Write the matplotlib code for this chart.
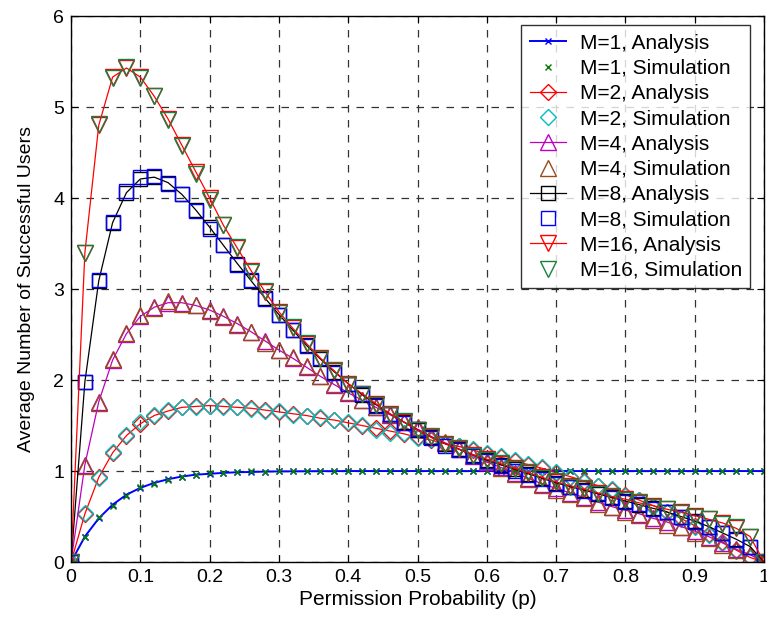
import numpy as np
import matplotlib.pyplot as plt

plt.rcParams['font.family'] = ['Liberation Sans', 'DejaVu Sans']

# permission probability p = 0, 0.02, ..., 1
p = np.linspace(0, 1, 51)

# ---- values ----
m1_ana = [0, 0.28, 0.48, 0.63, 0.74, 0.815, 0.87, 0.91, 0.94, 0.96,
          0.97, 0.98, 0.987, 0.99, 0.994, 0.996, 0.997, 0.998, 0.999, 0.999] + [1.0] * 31
m1_sim = [0, 0.27, 0.49, 0.62, 0.73, 0.82, 0.86, 0.90, 0.94, 0.96,
          0.98, 0.98, 0.99, 1.0, 0.99, 1.0, 1.0, 1.0, 1.0, 1.0] + [1.0] * 31

m2_ana = [0, 0.53, 0.93, 1.20, 1.39, 1.52, 1.61, 1.66, 1.70, 1.71,
          1.72, 1.71, 1.70, 1.69, 1.67, 1.65, 1.63, 1.61, 1.58, 1.56,
          1.53, 1.50, 1.47, 1.44, 1.41, 1.37, 1.34, 1.30, 1.27, 1.23,
          1.19, 1.15, 1.11, 1.07, 1.03, 0.98, 0.94, 0.89, 0.84, 0.79,
          0.74, 0.68, 0.62, 0.55, 0.48, 0.40, 0.31, 0.22, 0.13, 0.05, 0]
m2_sim = [0, 0.54, 0.92, 1.21, 1.40, 1.54, 1.62, 1.67, 1.70, 1.70,
          1.72, 1.70, 1.70, 1.68, 1.66, 1.66, 1.62, 1.60, 1.59, 1.56,
          1.54, 1.51, 1.45, 1.42, 1.42, 1.36, 1.35, 1.31, 1.27, 1.24,
          1.20, 1.17, 1.12, 1.08, 1.04, 0.99, 0.94, 0.88, 0.84, 0.80,
          0.73, 0.68, 0.61, 0.55, 0.47, 0.39, 0.30, 0.21, 0.12, 0.04, 0]

m4_ana = [0, 1.07, 1.76, 2.22, 2.51, 2.70, 2.80, 2.85, 2.85, 2.82,
          2.77, 2.70, 2.62, 2.53, 2.43, 2.33, 2.24, 2.14, 2.04, 1.95,
          1.86, 1.78, 1.70, 1.62, 1.54, 1.46, 1.38, 1.31, 1.24, 1.17,
          1.10, 1.04, 0.98, 0.92, 0.86, 0.81, 0.76, 0.71, 0.66, 0.61,
          0.57, 0.53, 0.48, 0.44, 0.39, 0.34, 0.28, 0.21, 0.14, 0.08, 0]
m4_sim = [0, 1.05, 1.75, 2.23, 2.52, 2.71, 2.79, 2.87, 2.84, 2.82,
          2.76, 2.69, 2.60, 2.53, 2.41, 2.33, 2.25, 2.15, 2.04, 1.96,
          1.87, 1.78, 1.70, 1.63, 1.55, 1.48, 1.39, 1.32, 1.25, 1.18,
          1.11, 1.03, 0.97, 0.91, 0.85, 0.79, 0.75, 0.70, 0.64, 0.60,
          0.55, 0.52, 0.46, 0.41, 0.39, 0.32, 0.26, 0.19, 0.13, 0.08, 0]

m8_ana = [0, 1.98, 3.09, 3.73, 4.06, 4.21, 4.23, 4.17, 4.04, 3.87,
          3.68, 3.48, 3.28, 3.09, 2.90, 2.72, 2.55, 2.38, 2.23, 2.09,
          1.96, 1.84, 1.73, 1.63, 1.54, 1.45, 1.37, 1.30, 1.24, 1.18,
          1.12, 1.07, 1.02, 0.97, 0.92, 0.87, 0.83, 0.79, 0.75, 0.71,
          0.67, 0.63, 0.59, 0.55, 0.50, 0.45, 0.39, 0.32, 0.25, 0.17, 0]
m8_sim = [0, 1.98, 3.10, 3.74, 4.08, 4.23, 4.24, 4.16, 4.04, 3.86,
          3.66, 3.48, 3.27, 3.10, 2.89, 2.71, 2.55, 2.37, 2.24, 2.08,
          1.96, 1.85, 1.72, 1.63, 1.53, 1.46, 1.36, 1.28, 1.23, 1.17,
          1.11, 1.06, 1.00, 0.96, 0.91, 0.86, 0.83, 0.78, 0.76, 0.70,
          0.66, 0.64, 0.58, 0.55, 0.49, 0.44, 0.39, 0.32, 0.24, 0.17, 0]

m16_ana = [0, 3.40, 4.80, 5.33, 5.43, 5.33, 5.12, 4.87, 4.58, 4.29,
           4.00, 3.70, 3.45, 3.20, 2.97, 2.75, 2.57, 2.40, 2.24, 2.10,
           1.96, 1.85, 1.74, 1.63, 1.54, 1.45, 1.37, 1.30, 1.24, 1.18,
           1.13, 1.08, 1.03, 0.98, 0.93, 0.88, 0.84, 0.80, 0.76, 0.72,
           0.69, 0.65, 0.62, 0.58, 0.55, 0.51, 0.47, 0.43, 0.37, 0.28, 0]
m16_sim = [0, 3.40, 4.81, 5.32, 5.44, 5.32, 5.12, 4.86, 4.57, 4.27,
           3.98, 3.70, 3.46, 3.19, 2.98, 2.74, 2.58, 2.41, 2.23, 2.11,
           1.95, 1.85, 1.73, 1.62, 1.55, 1.45, 1.38, 1.29, 1.25, 1.17,
           1.12, 1.09, 1.02, 0.99, 0.92, 0.89, 0.83, 0.81, 0.75, 0.73,
           0.68, 0.66, 0.61, 0.58, 0.54, 0.50, 0.47, 0.42, 0.38, 0.27, 0]

x_ticklabels = ['0', '0.1', '0.2', '0.3', '0.4', '0.5', '0.6', '0.7', '0.8', '0.9', '1']

fig = plt.figure(figsize=(7.67, 6.2), dpi=100)
ax = fig.add_axes([0.0926, 0.0935, 0.9035, 0.8805])

mfc = 'none'
lw = 0.9
ax.plot(p, m1_ana, color='#0000ff', marker='x', ms=5, lw=1.4, mew=1,
        label='M=1, Analysis')
ax.plot(p, m1_sim, ls='none', color='#008000', marker='x', ms=5, mew=1,
        label='M=1, Simulation')
ax.plot(p, m2_ana, color='#ff0000', marker='D', ms=8, lw=lw, mfc=mfc,
        label='M=2, Analysis')
ax.plot(p, m2_sim, ls='none', color='#00bfbf', marker='D', ms=8, mfc=mfc,
        label='M=2, Simulation')
ax.plot(p, m4_ana, color='#bf00bf', marker='^', ms=11, lw=lw, mfc=mfc,
        label='M=4, Analysis')
ax.plot(p, m4_sim, ls='none', color='#994c1a', marker='^', ms=11, mfc=mfc,
        label='M=4, Simulation')
ax.plot(p, m8_ana, color='#000000', marker='s', ms=10, lw=lw, mfc=mfc,
        label='M=8, Analysis')
ax.plot(p, m8_sim, ls='none', color='#0000ff', marker='s', ms=10, mfc=mfc,
        label='M=8, Simulation')
ax.plot(p, m16_ana, color='#ff0000', marker='v', ms=11, lw=lw, mfc=mfc,
        label='M=16, Analysis')
ax.plot(p, m16_sim, ls='none', color='#1a8040', marker='v', ms=11, mfc=mfc,
        label='M=16, Simulation')

ax.set_xlim(0, 1)
ax.set_ylim(0, 6)
ax.set_xticks(np.arange(0, 1.01, 0.1))
ax.set_xticklabels(x_ticklabels)
ax.set_yticks(range(7))
ax.tick_params(direction='in', top=True, right=True, length=5, pad=5,
               labelsize=14)
ax.grid(True, color='#333333', ls=(0, (6, 6)), lw=0.9)
for s in ax.spines.values():
    s.set_linewidth(1.0)

ax.set_xlabel('Permission Probability (p)', fontsize=15, labelpad=3)
ax.set_ylabel('Average Number of Successful Users', fontsize=14, labelpad=13)

leg = ax.legend(loc='upper right', bbox_to_anchor=(0.98, 0.983), fontsize=15,
                frameon=True, fancybox=False, edgecolor='black',
                handlelength=1.75, borderpad=0.4, labelspacing=0.3,
                handletextpad=0.65, borderaxespad=0)
leg.get_frame().set_linewidth(1.0)

plt.savefig('out.png', dpi=100)
